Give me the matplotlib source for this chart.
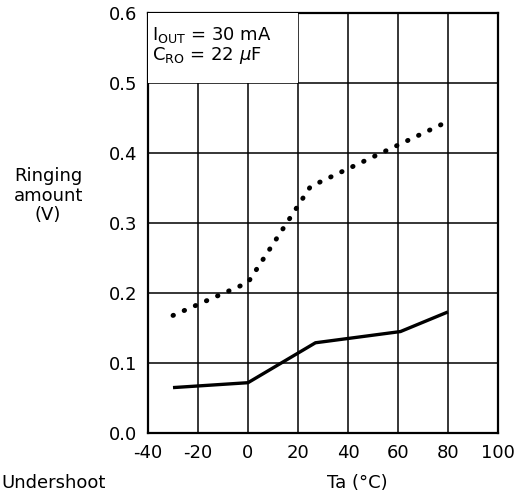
import matplotlib.pyplot as plt
from matplotlib.patches import Rectangle

# datos
ta_solido = [-30, 0, 27, 61, 80]
v_solido = [0.065, 0.072, 0.129, 0.145, 0.173]
ta_puntos = [-30, 0, 25, 80]
v_puntos = [0.168, 0.215, 0.352, 0.445]
x_ticks = [-40, -20, 0, 20, 40, 60, 80, 100]
y_ticks = [0.0, 0.1, 0.2, 0.3, 0.4, 0.5, 0.6]

plt.rcParams['axes.unicode_minus'] = False
plt.rcParams['font.family'] = 'DejaVu Sans'

fig = plt.figure(figsize=(5.23, 4.95), dpi=100)
ax = fig.add_axes([0.283, 0.125, 0.669, 0.849])

ax.plot(ta_solido, v_solido, color='black', lw=2.4, solid_capstyle='butt', zorder=4)
ax.plot(ta_puntos, v_puntos, color='black', lw=3.5, linestyle=(0, (0.1, 2.4)),
        dash_capstyle='round', zorder=4)

ax.set_xlim(-40, 100)
ax.set_ylim(0, 0.6)
ax.set_xticks(x_ticks)
ax.set_yticks(y_ticks)
ax.set_yticklabels([f"{v:.1f}" for v in y_ticks])
ax.grid(True, color='black', lw=1.1)
ax.tick_params(length=0, labelsize=13, pad=8)
for s in ax.spines.values():
    s.set_linewidth(1.6)

# caja de condiciones
ax.add_patch(Rectangle((-40, 0.5), 60, 0.1, facecolor='white', edgecolor='none', zorder=3))
ax.text(-38.5, 0.568, "I$_{\\rm OUT}$ = 30 mA", fontsize=13, va='center', zorder=5)
ax.text(-38.5, 0.539, "C$_{\\rm RO}$ = 22 $\\mu$F", fontsize=13, va='center', zorder=5)

fig.text(0.092, 0.605, "Ringing\namount\n(V)", fontsize=13, ha='center', va='center',
         linespacing=1.1)
fig.text(0.683, 0.024, "Ta (°C)", fontsize=13, ha='center', va='center')
fig.text(0.002, 0.024, "Undershoot", fontsize=13, ha='left', va='center')

fig.savefig('out.png', dpi=100)
